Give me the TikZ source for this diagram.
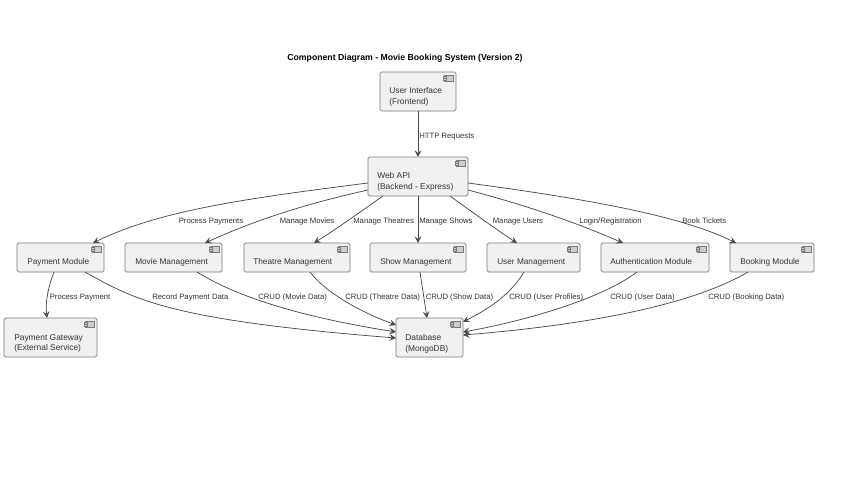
\documentclass[tikz,border=0pt]{standalone}
\usepackage{fontspec}
\setmainfont{Liberation Sans}
\usetikzlibrary{arrows.meta}
\definecolor{boxfill}{HTML}{F1F1F1}
\definecolor{boxline}{HTML}{7A7A7A}
\definecolor{linkc}{HTML}{4A4A4A}
\definecolor{txt}{HTML}{333333}
\tikzset{
  x=0.75pt,y=-0.75pt,
  comp/.style={draw=boxline,fill=boxfill,line width=0.6pt,rounded corners=1.2pt,inner sep=0pt,outer sep=0pt},
  comptext/.style={text=txt,font=\fontsize{6.3}{8.1}\selectfont,align=left,anchor=west,inner sep=0pt},
  link/.style={draw=linkc,line width=0.55pt,-{Stealth[length=5pt,width=5pt,inset=2pt]}},
  lab/.style={text=txt,font=\fontsize{5.8}{7}\selectfont,anchor=west,inner sep=0pt,text height=4.6pt,text depth=1.3pt},
  icon/.style={draw=boxline,fill=boxfill!85!black,line width=0.4pt},
}
\newcommand{\cbox}[7]{% name, x0,y0,x1,y1, textx, text dy
  \path[comp] (#2,#3) rectangle (#4,#5);
  \node[minimum width=#4*0.75pt-#2*0.75pt,minimum height=#5*0.75pt-#3*0.75pt,inner sep=0pt,outer sep=0pt] (#1) at ({(#2+#4)/2},{(#3+#5)/2}) {};
  \node[comptext] (#1t) at (#6,{(#3+#5)/2+#7}) {\csname lbl#1\endcsname};
  \draw[icon] ([shift={(-11.5,3)}]#1.north east) rectangle ([shift={(-2.5,9.5)}]#1.north east);
  \draw[icon] ([shift={(-13,4.2)}]#1.north east) rectangle ([shift={(-10,5.8)}]#1.north east);
  \draw[icon] ([shift={(-13,6.7)}]#1.north east) rectangle ([shift={(-10,8.3)}]#1.north east);
}
\newcommand{\one}{\fontsize{6.2}{8.1}\selectfont\vphantom{lg}}
\newcommand{\lblui}{User Interface\\(Frontend)}
\newcommand{\lblweb}{Web API\\(Backend - Express)}
\newcommand{\lblpay}{\one Payment Module}
\newcommand{\lblmov}{\one Movie Management}
\newcommand{\lblthe}{\one Theatre Management}
\newcommand{\lblsho}{\one Show Management}
\newcommand{\lblusr}{\one User Management}
\newcommand{\lblaut}{\one Authentication Module}
\newcommand{\lblboo}{\one Booking Module}
\newcommand{\lblgat}{Payment Gateway\\(External Service)}
\newcommand{\lbldb}{Database\\(MongoDB)}
\begin{document}
\begin{tikzpicture}
\useasboundingbox (0,0) rectangle (868,489);
\fill[white] (0,0) rectangle (868,489);
\node[font=\bfseries\fontsize{6.52}{8}\selectfont,text=black,inner sep=0pt] (title) at (405,58) {Component Diagram - Movie Booking System (Version 2)};
\cbox{ui}{380}{72}{456}{111}{389}{5}
\cbox{web}{368}{157}{468}{196}{377}{5.5}
\cbox{pay}{17}{243}{104}{272}{27}{4.5}
\cbox{mov}{125}{243}{222}{272}{135}{4.5}
\cbox{the}{244}{243}{350}{272}{253}{4.5}
\cbox{sho}{370}{243}{466}{272}{380}{4.5}
\cbox{usr}{487}{243}{580}{272}{497}{4.5}
\cbox{aut}{601}{243}{709}{272}{610}{4.5}
\cbox{boo}{730}{243}{814}{272}{740}{4.5}
\cbox{gat}{4}{318}{97}{357}{14}{6}
\cbox{db}{396}{318}{463}{357}{405}{6}
\draw[link] (ui.south) -- (web.north);
\draw[link] ([shift={(0,26)}]web.north west) .. controls (250,198) and (160,210) .. ([shift={(76,0)}]pay.north west);
\draw[link] ([shift={(0,33)}]web.north west) .. controls (310,203) and (260,218) .. ([shift={(80,0)}]mov.north west);
\draw[link] ([shift={(15,0)}]web.south west) .. controls (360,212) and (338,228) .. ([shift={(70,0)}]the.north west);
\draw[link] (web.south) -- ([shift={(48,0)}]sho.north west);
\draw[link] ([shift={(-18,0)}]web.south east) .. controls (475,214) and (497,230) .. ([shift={(30,0)}]usr.north west);
\draw[link] ([shift={(0,33)}]web.north east) .. controls (525,205) and (575,222) .. ([shift={(22,0)}]aut.north west);
\draw[link] ([shift={(0,26)}]web.north east) .. controls (580,198) and (680,215) .. ([shift={(6,0)}]boo.north west);
\draw[link] ([shift={(37,0)}]pay.south west) .. controls (49,285) and (45,300) .. ([shift={(43,0)}]gat.north west);
\draw[link] ([shift={(68,0)}]pay.south west) .. controls (135,300) and (170,320) .. ([shift={(0,20)}]db.north west);
\draw[link] ([shift={(72,0)}]mov.south west) .. controls (245,302) and (320,320) .. ([shift={(0,14)}]db.north west);
\draw[link] ([shift={(66,0)}]the.south west) .. controls (325,292) and (360,312) .. ([shift={(0,7)}]db.north west);
\draw[link] ([shift={(50,0)}]sho.south west) -- ([shift={(31,0)}]db.north west);
\draw[link] ([shift={(37,0)}]usr.south west) .. controls (510,295) and (490,308) .. ([shift={(0,4)}]db.north east);
\draw[link] ([shift={(36,0)}]aut.south west) .. controls (600,300) and (520,322) .. ([shift={(0,14)}]db.north east);
\draw[link] ([shift={(18,0)}]boo.south west) .. controls (680,312) and (550,328) .. ([shift={(0,17)}]db.north east);
\node[lab] (l0) at (419,136.5) {HTTP Requests};
\node[lab] (l1) at (178.5,221.5) {Process Payments};
\node[lab] (l2) at (279.5,221.5) {Manage Movies};
\node[lab] (l3) at (353,221.5) {Manage Theatres};
\node[lab] (l4) at (419,221.5) {Manage Shows};
\node[lab] (l5) at (492.5,221.5) {Manage Users};
\node[lab] (l6) at (579,221.5) {Login/Registration};
\node[lab] (l7) at (682,221.5) {Book Tickets};
\node[lab] (l8) at (49.5,297.5) {Process Payment};
\node[lab] (l9) at (152,297.5) {Record Payment Data};
\node[lab] (l10) at (258,297.5) {CRUD (Movie Data)};
\node[lab] (l11) at (345,297.5) {CRUD (Theatre Data)};
\node[lab] (l12) at (425.5,297.5) {CRUD (Show Data)};
\node[lab] (l13) at (509,297.5) {CRUD (User Profiles)};
\node[lab] (l14) at (610,297.5) {CRUD (User Data)};
\node[lab] (l15) at (708,297.5) {CRUD (Booking Data)};
\end{tikzpicture}
\end{document}
